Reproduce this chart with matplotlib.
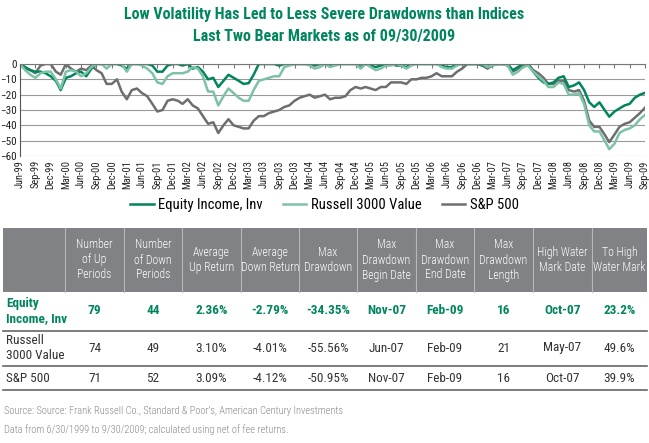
import numpy as np
import pandas as pd
import matplotlib
matplotlib.use("Agg")
import matplotlib.pyplot as plt
from matplotlib import font_manager
from matplotlib.patches import Rectangle

# pick a condensed face close to the original Univers Condensed look
installed = {f.name for f in font_manager.fontManager.ttflist}
for cand in ['Roboto Condensed', 'Archivo Narrow', 'PT Sans Narrow', 'Barlow Condensed',
             'Sofia Sans Condensed', 'Encode Sans Condensed', 'IBM Plex Sans Condensed',
             'Open Sans Condensed', 'Liberation Sans Narrow']:
    if cand in installed:
        FONT = cand
        break
else:
    FONT = 'DejaVu Sans'
plt.rcParams['font.family'] = [FONT, 'DejaVu Sans']

# monthly drawdown (%) Jun-99 .. Sep-09
equity_income = [
    0, -2, -4, -5, -5, -6, -8, -11, -17, -9, -8, -6, -5, -8, -3, 0, 0, 0, 0, 0,
    -1, -3, 0, 0, 0, 0, -1, -5, -5, -1, 0, 0, -1, 0, -3, -2, -5, -10, -9, -15,
    -11, -7, -9, -11, -13, -12.5, -7, 0, 0, 0, 0, -1, 0, 0, 0, 0, 0, 0, -1, 0,
    0, -1, 0, 0, 0, 0, 0, -2, 0, -1, -2, -1, 0, 0, -1, -1, -2, 0, 0, 0,
    0, 0, 0, -1, -2, -2, 0, 0, 0, 0, 0, -1, -2, 0, 0, 0, 0, -4, -2, 0,
    0, -5, -9, -12, -13, -12, -9, -8, -15, -14, -12, -17, -25, -28, -25, -30, -34.35, -31, -29, -27,
    -26, -22, -20, -18.8,
]
russell_3000_value = [
    0, -4, -7, -9, -6, -5, -5, -10, -16, -5, -4, -5, -8, -6, -2, 0, 0, -3, 0, 0,
    0, -5, 0, 0, -1, -3, -6, -12, -13, -8, -6, -6, -6, -5, -2, -3, -8, -18, -18, -27,
    -21, -16, -19, -22, -24, -24, -17, -11, -10, -9, -8, -8, -2, -1, 0, 0, 0, -1, -3, -2,
    0, -2, -1, 0, 0, 0, 0, -3, 0, -2, -4, -3, -1, -1, 0, -1, -3, -1, 0, 0,
    0, 0, 0, -2, -3, -3, -1, 0, 0, 0, 0, 0, -2, -1, 0, 0, -1, -7, -5, -2,
    -1, -5, -8, -11, -15, -15, -12, -13, -20, -20, -19, -26, -40, -44, -44, -50, -55.56, -52, -45, -43,
    -42, -40, -36, -33.2,
]
sp500 = [
    0, -3, -4, -6, -1, 0, 0, -5, -7, 0, -3, -5, -3, -4, -1, -4, -6, -13, -13, -10,
    -18, -23, -17, -16, -19, -21, -26, -31, -30, -24, -23, -24, -26, -23, -27, -29, -34, -39, -38, -45,
    -40, -36, -40, -41, -42, -42, -37, -34, -34, -32, -31, -30, -28, -27, -24, -22, -21, -20, -22, -21,
    -20, -23, -22, -22, -21, -17, -15, -16, -15, -16, -17, -15, -15, -12, -12, -12, -13, -10, -10, -9,
    -9, -8, -6, -8, -8, -8, -5, -3, 0, 0, 0, -1, -3, -1, 0, 0, -1, -5, -3, -1,
    0, -4, -6, -9, -13, -13, -11, -11, -17, -18, -17, -24, -37, -41, -41, -46, -50.95, -46, -41, -39,
    -38, -35, -32, -28.5,
]
series_names = ['Equity Income, Inv', 'Russell 3000 Value', 'S&P 500']
y_ticks = [0, -10, -20, -30, -40, -50, -60]

# table
col_headers = ['Number\nof Up\nPeriods', 'Number\nof Down\nPeriods', 'Average\nUp Return',
               'Average\nDown Return', 'Max\nDrawdown', 'Max\nDrawdown\nBegin Date',
               'Max\nDrawdown\nEnd Date', 'Max\nDrawdown\nLength', 'High Water\nMark Date',
               'To High\nWater Mark']
row_labels = ['Equity\nIncome, Inv', 'Russell\n3000 Value', 'S&P 500']
table_rows = [
    ['79', '44', '2.36%', '-2.79%', '-34.35%', 'Nov-07', 'Feb-09', '16', 'Oct-07', '23.2%'],
    ['74', '49', '3.10%', '-4.01%', '-55.56%', 'Jun-07', 'Feb-09', '21', 'May-07', '49.6%'],
    ['71', '52', '3.09%', '-4.12%', '-50.95%', 'Nov-07', 'Feb-09', '16', 'Oct-07', '39.9%'],
]
source_lines = [
    "Source: Source: Frank Russell Co., Standard & Poor's, American Century Investments",
    "Data from 6/30/1999 to 9/30/2009; calculated using net of fee returns.",
]

GREEN = '#00855f'
LIGHT = '#7cc3a5'
GRAY = '#6d6e71'
colors = [GREEN, LIGHT, GRAY]

dates = pd.date_range('1999-06-30', '2009-09-30', freq='ME')

fig = plt.figure(figsize=(6.49, 4.43), dpi=100)

fig.text(0.5, 1 - 15 / 443, 'Low Volatility Has Led to Less Severe Drawdowns than Indices',
         ha='center', va='center', color=GREEN, fontsize=11.5, fontweight='bold')
fig.text(0.5, 1 - 37 / 443, 'Last Two Bear Markets as of 09/30/2009',
         ha='center', va='center', color=GREEN, fontsize=11.5, fontweight='bold')

# chart
ax = fig.add_axes([20 / 649, 1 - 156 / 443, 625 / 649, 92 / 443])
for vals, name, c in zip([equity_income, russell_3000_value, sp500], series_names, colors):
    ax.plot(dates, vals, color=c, lw=1.8, label=name)
ax.lines[2].set_zorder(1.5)

ax.set_ylim(-60, 0)
ax.set_xlim(dates[0], dates[-1])
ax.set_yticks(y_ticks)
ax.tick_params(axis='y', length=0, labelsize=8, pad=2, labelcolor='#222222')
ax.yaxis.grid(True, color='#9a9a9a', lw=0.8)
ax.set_axisbelow(True)

qdates = dates[::3]
ax.set_xticks(qdates)
ax.set_xticklabels([d.strftime('%b-%y') for d in qdates], rotation=90, fontsize=7.5,
                   color='#222222')
ax.tick_params(axis='x', top=True, bottom=False, labeltop=False, labelbottom=True,
               direction='in', length=3, color='#777777', pad=3)
for s in ['right', 'bottom']:
    ax.spines[s].set_visible(False)
ax.spines['top'].set_color('#777777')
ax.spines['left'].set_color('#555555')

fig.legend(loc='center', bbox_to_anchor=(0.5, 1 - 205 / 443), ncol=3, frameon=False,
           fontsize=10.5, handlelength=1.6, handletextpad=0.3, columnspacing=1.4)

# table drawn in pixel coordinates
tab = fig.add_axes([0, 0, 1, 1])
tab.set_xlim(0, 649)
tab.set_ylim(443, 0)
tab.axis('off')

bounds = [3, 65, 124, 182, 241, 299, 357, 416, 474, 533, 592, 647]
tab.add_patch(Rectangle((3, 228), 644, 64, color='#808285', lw=0))
for b in bounds[1:-1]:
    tab.plot([b, b], [228, 292], color='#b8b8ba', lw=0.8)
for i, h in enumerate(col_headers):
    cx = (bounds[i + 1] + bounds[i + 2]) / 2
    tab.text(cx, 260, h, ha='center', va='center', color='white', fontsize=8.5,
             fontweight='light', linespacing=1.2)

row_y = [311, 348, 378]
line_y = [331, 366, 390]
for r, (lab, vals) in enumerate(zip(row_labels, table_rows)):
    c = GREEN if r == 0 else '#333333'
    w = 'bold' if r == 0 else 'normal'
    tab.text(6, row_y[r], lab, ha='left', va='center', color=c, fontsize=9.5,
             fontweight=w, linespacing=1.2)
    for i, v in enumerate(vals):
        cx = (bounds[i + 1] + bounds[i + 2]) / 2
        tab.text(cx, row_y[r], v, ha='center', va='center', color=c, fontsize=9.5,
                 fontweight=w)
    tab.plot([3, 647], [line_y[r], line_y[r]], color='#666666', lw=1.2)

tab.text(4, 411, source_lines[0], ha='left', va='center', color='#888888', fontsize=7.5,
         fontweight='light')
tab.text(4, 430, source_lines[1], ha='left', va='center', color='#888888', fontsize=7.5,
         fontweight='light')

fig.savefig('out.png', dpi=100)
